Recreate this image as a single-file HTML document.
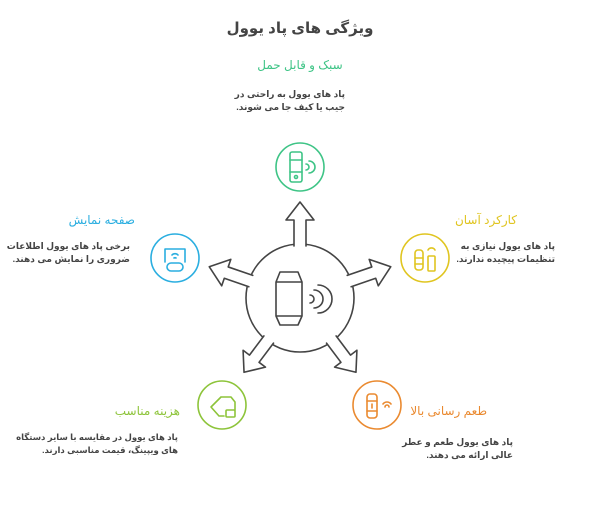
<!DOCTYPE html>
<html><head><meta charset="utf-8"><style>
body{margin:0;background:#fff;width:600px;height:518px;overflow:hidden;position:relative;font-family:"Liberation Sans","DejaVu Sans",sans-serif}
.t{position:absolute;direction:rtl;white-space:nowrap}
.h{font-size:12px}
.d{font-size:9px;color:#444;font-weight:bold;line-height:13px;text-align:right}
</style></head><body>
<svg width="600" height="518" style="position:absolute;left:0;top:0" fill="none" stroke-linecap="round" stroke-linejoin="round">
<g stroke="#444" stroke-width="1.6">
<circle cx="300" cy="298" r="54" fill="#fff"/>
<g transform="translate(300,298) rotate(-90)"><polygon points="50,-6 78,-6 78,-14 96,0 78,14 78,6 50,6" fill="#fff" stroke="none"/><polyline points="52,-6 78,-6 78,-14 96,0 78,14 78,6 52,6"/></g>
<g transform="translate(300,298) rotate(-19)"><polygon points="50,-6 78,-6 78,-14 96,0 78,14 78,6 50,6" fill="#fff" stroke="none"/><polyline points="52,-6 78,-6 78,-14 96,0 78,14 78,6 52,6"/></g>
<g transform="translate(300,298) rotate(-161)"><polygon points="50,-6 78,-6 78,-14 96,0 78,14 78,6 50,6" fill="#fff" stroke="none"/><polyline points="52,-6 78,-6 78,-14 96,0 78,14 78,6 52,6"/></g>
<g transform="translate(300,298) rotate(127)"><polygon points="50,-6 76,-6 76,-14 93,0 76,14 76,6 50,6" fill="#fff" stroke="none"/><polyline points="52,-6 76,-6 76,-14 93,0 76,14 76,6 52,6"/></g>
<g transform="translate(300,298) rotate(53)"><polygon points="50,-6 76,-6 76,-14 93,0 76,14 76,6 50,6" fill="#fff" stroke="none"/><polyline points="52,-6 76,-6 76,-14 93,0 76,14 76,6 52,6"/></g>
<path d="M280,272 H298 L302,282 V316 L298,325 H280 L276,316 V282 Z M276,282 H302 M276,316 H302"/>
<path d="M310,295 a4,4 0 0 1 0,8 M314,290 a9,9 0 0 1 0,18 M318,285 a14,14 0 0 1 0,28"/>
</g>
<g stroke="#3ec486" stroke-width="1.6"><circle cx="300" cy="167" r="24"/><rect x="290" y="152" width="12" height="30" rx="2"/><path d="M290,160 H302 M290,172 H302"/><circle cx="296" cy="177" r="1.5"/><path d="M306,164 a3,3 0 0 1 0,6 M309,161 a6,6 0 0 1 0,12"/></g>
<g stroke="#2aaee0" stroke-width="1.6"><circle cx="175" cy="258" r="24"/><path d="M165,262 V249 H185 V262 M172,255 a4,4 0 0 1 6,0 M174,258 a2,2 0 0 1 2,0"/><rect x="167" y="263" width="16" height="8" rx="4"/></g>
<g stroke="#e0c520" stroke-width="1.6"><circle cx="425" cy="258" r="24"/><rect x="415" y="250" width="8" height="20" rx="3"/><path d="M415,258 H423 M415,264 H423"/><rect x="428" y="256" width="7" height="15" rx="1"/><path d="M428,250 a4,4 0 0 1 7,0"/></g>
<g stroke="#8dc43a" stroke-width="1.6"><circle cx="222" cy="405" r="24"/><path d="M221,397 L231,397 L235,402 V410 M221,397 L211,407 L219,416 H224"/><rect x="226" y="410" width="9" height="7" rx="1"/></g>
<g stroke="#ea8a30" stroke-width="1.6"><circle cx="377" cy="405" r="24"/><rect x="367" y="394" width="10" height="24" rx="3"/><path d="M367,401 H377 M367,411 H377 M372,404 V408 M383,404 a5,5 0 0 1 8,0 M385,407 a2,2 0 0 1 4,0"/></g>
</svg>
<div class="t" style="left:200px;top:19px;width:200px;text-align:center;font-size:15px;font-weight:bold;color:#444">ویژگی های پاد یوول</div>
<div class="t h" style="left:200px;top:58px;width:200px;text-align:center;color:#3ec486">سبک و قابل حمل</div>
<div class="t d" style="right:255px;top:88px">پاد های یوول به راحتی در<br>جیب یا کیف جا می شوند.</div>
<div class="t h" style="right:465px;top:213px;color:#2aaee0">صفحه نمایش</div>
<div class="t d" style="right:470px;top:240px">برخی پاد های یوول اطلاعات<br>ضروری را نمایش می دهند.</div>
<div class="t h" style="right:83px;top:213px;color:#e0c520">کارکرد آسان</div>
<div class="t d" style="right:45px;top:240px">پاد های یوول نیازی به<br>تنظیمات پیچیده ندارند.</div>
<div class="t h" style="right:420px;top:404px;color:#8dc43a">هزینه مناسب</div>
<div class="t d" style="right:422px;top:431px;font-size:8.5px">پاد های یوول در مقایسه با سایر دستگاه<br>های ویپینگ، قیمت مناسبی دارند.</div>
<div class="t h" style="right:113px;top:404px;color:#ea8a30">طعم رسانی بالا</div>
<div class="t d" style="right:87px;top:436px">پاد های یوول طعم و عطر<br>عالی ارائه می دهند.</div>
</body></html>
